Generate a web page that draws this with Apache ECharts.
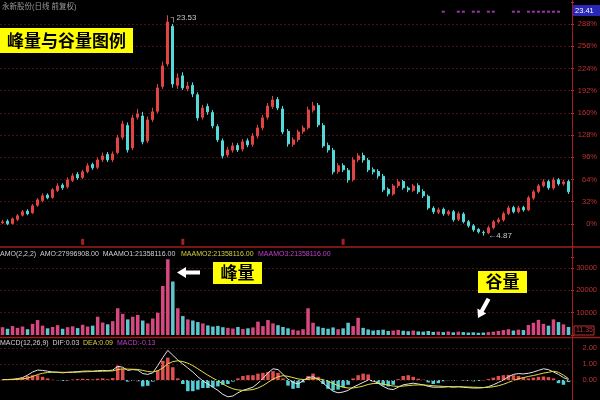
<!DOCTYPE html>
<html><head><meta charset="utf-8">
<script src="https://cdn.jsdelivr.net/npm/echarts/dist/echarts.min.js"></script>
<style>html,body{margin:0;padding:0;background:#000;}#c{width:600px;height:400px;}</style>
</head><body><div id="c"></div>
<script>
// ---- data ----
const basePrice = 5.87; // price at 0% on the right axis
const opens = [5.95,6.10,5.90,6.25,6.60,6.95,6.80,7.45,7.85,8.30,
 8.10,8.70,9.15,9.00,9.55,10.05,9.80,10.30,10.90,10.65,
 11.30,11.75,11.30,11.90,13.20,14.20,12.30,14.90,15.00,12.90,
 14.70,15.40,17.50,19.40,22.60,17.60,18.40,17.30,17.60,16.80,
 14.90,15.80,15.30,14.10,12.90,11.70,12.10,12.50,12.20,12.90,
 12.60,13.30,14.00,14.90,15.80,16.40,15.60,13.70,12.60,13.00,
 13.70,14.00,15.50,15.90,14.20,12.50,12.10,10.30,10.80,10.40,
 9.60,11.30,11.65,11.25,10.45,10.30,9.90,8.80,8.40,9.10,
 9.45,8.90,8.70,9.10,8.60,8.20,7.20,6.85,7.10,6.70,
 6.90,6.25,6.70,6.05,5.70,5.40,5.15,5.10,5.55,6.05,
 6.20,6.75,7.25,6.90,7.25,7.05,8.05,8.60,9.10,9.45,
 8.90,9.60,9.25,9.45];
const closes = [6.04,5.87,6.29,6.55,6.89,6.72,7.39,7.90,8.24,8.07,
 8.75,9.08,8.92,9.59,9.93,9.76,10.27,10.78,10.61,11.28,
 11.62,11.28,11.79,13.15,14.33,12.13,14.84,15.18,12.81,14.67,
 15.35,17.38,19.24,22.96,17.71,18.22,17.38,17.54,16.87,14.84,
 15.68,15.35,14.16,12.98,11.62,12.13,12.47,12.13,12.81,12.55,
 13.31,13.99,14.84,15.85,16.36,15.68,13.65,12.64,12.98,13.65,
 13.99,15.51,15.85,14.25,12.47,12.13,10.27,10.78,10.44,9.59,
 11.28,11.62,11.28,10.44,10.27,9.93,8.75,8.41,9.08,9.42,
 8.92,8.75,9.08,8.58,8.24,7.22,6.89,7.05,6.72,6.89,
 6.21,6.72,6.04,5.70,5.36,5.19,5.11,5.53,6.04,6.21,
 6.72,7.22,6.89,7.22,7.05,8.07,8.58,9.08,9.42,8.92,
 9.59,9.25,9.42,8.58];
const highs = [6.20,6.25,6.40,6.70,7.05,7.10,7.55,8.05,8.45,8.45,
 8.90,9.30,9.30,9.80,10.15,10.25,10.45,11.00,11.05,11.50,
 11.90,11.95,12.00,13.40,14.60,14.45,15.10,15.60,15.35,14.95,
 15.70,17.70,19.60,23.53,22.80,18.60,18.70,17.90,17.85,17.00,
 15.95,16.05,15.50,14.30,13.10,12.40,12.75,12.70,13.05,13.10,
 13.55,14.25,15.10,16.10,16.70,16.60,15.85,13.90,13.20,13.85,
 14.20,15.80,16.20,16.10,14.40,12.75,12.30,11.00,11.00,10.60,
 11.50,11.85,11.90,11.45,10.65,10.50,10.10,8.95,9.25,9.65,
 9.60,9.05,9.25,9.30,8.80,8.35,7.35,7.25,7.25,7.05,
 7.05,6.90,6.85,6.20,5.85,5.50,5.30,5.70,6.20,6.40,
 6.90,7.40,7.40,7.40,7.40,8.25,8.75,9.25,9.65,9.60,
 9.80,9.75,9.60,9.60];
const lows = [5.85,5.75,5.80,6.10,6.50,6.60,6.70,7.30,7.70,7.95,
 8.00,8.55,8.75,8.85,9.40,9.60,9.65,10.15,10.45,10.50,
 11.10,11.10,11.10,11.75,13.00,11.90,12.10,14.70,12.60,12.70,
 14.50,15.20,17.30,19.20,17.40,17.30,17.20,17.10,16.60,14.60,
 14.70,15.10,13.95,12.80,11.40,11.50,11.90,11.95,12.00,12.35,
 12.40,13.10,13.80,14.70,15.60,15.50,13.45,12.40,12.40,12.80,
 13.50,13.85,15.30,14.05,12.30,11.90,10.05,10.10,10.25,9.35,
 9.45,11.10,11.05,10.25,10.05,9.70,8.55,8.20,8.25,8.90,
 8.75,8.55,8.55,8.40,8.05,7.05,6.70,6.70,6.55,6.55,
 6.05,6.10,5.90,5.55,5.20,5.05,4.87,5.00,5.40,5.90,
 6.05,6.60,6.75,6.75,6.90,6.95,7.90,8.45,8.95,8.75,
 8.75,9.10,9.10,8.40];
const volumes = [3500,2800,4000,3200,3800,2600,5000,6700,4200,3000,
 3600,4400,2800,3500,3900,3100,4600,3800,4200,8200,
 5600,4800,6200,12000,9500,7000,8200,9000,6500,5200,
 7400,10000,22000,34000,24000,12000,8500,7000,6500,5800,
 5200,4300,3800,4100,3500,3200,2900,3600,2700,3000,
 3400,6000,4000,6700,5200,4400,3600,3000,2400,2000,
 2600,12000,5500,3800,3200,2800,3400,2600,3000,5500,
 4000,7700,3200,2500,2000,2200,2400,1800,2000,2300,
 1900,1700,2000,1600,1500,1800,1400,1500,1300,1600,
 1200,1500,1300,1100,1200,1000,1100,1300,1500,1800,
 2200,2600,2000,2400,2200,4500,5500,6800,5000,4200,
 7000,5800,4800,3600];
const dif = [0.02,0.03,0.05,0.08,0.15,0.30,0.50,0.62,0.60,0.55,
 0.50,0.48,0.45,0.48,0.50,0.52,0.55,0.56,0.55,0.58,
 0.60,0.58,0.62,0.85,0.80,0.60,0.65,0.62,0.40,0.35,
 0.45,0.90,1.40,1.85,1.55,1.25,1.00,0.75,0.50,0.20,
 -0.05,-0.25,-0.45,-0.65,-0.90,-1.05,-1.00,-0.80,-0.65,-0.55,
 -0.45,-0.20,0.10,0.45,0.70,0.65,0.35,0.05,-0.15,-0.25,
 -0.05,0.15,0.20,0.05,-0.20,-0.45,-0.70,-0.80,-0.75,-0.65,
 -0.45,-0.30,-0.15,0.00,-0.05,-0.20,-0.40,-0.55,-0.60,-0.45,
 -0.30,-0.25,-0.20,-0.25,-0.30,-0.40,-0.45,-0.45,-0.45,-0.42,
 -0.45,-0.42,-0.45,-0.48,-0.50,-0.50,-0.48,-0.42,-0.30,-0.15,
 0.00,0.20,0.35,0.40,0.38,0.42,0.50,0.60,0.70,0.65,
 0.50,0.35,0.15,0.03];
const dea = [0.01,0.02,0.03,0.04,0.07,0.12,0.22,0.34,0.42,0.47,
 0.49,0.49,0.48,0.48,0.48,0.49,0.51,0.52,0.53,0.54,
 0.55,0.56,0.57,0.65,0.70,0.68,0.67,0.66,0.60,0.53,
 0.50,0.58,0.75,1.00,1.15,1.20,1.15,1.05,0.90,0.70,
 0.50,0.30,0.12,-0.05,-0.25,-0.42,-0.55,-0.62,-0.65,-0.63,
 -0.60,-0.50,-0.35,-0.15,0.05,0.20,0.27,0.23,0.15,0.07,
 0.03,0.05,0.08,0.08,0.02,-0.08,-0.22,-0.35,-0.45,-0.50,
 -0.50,-0.45,-0.38,-0.28,-0.22,-0.21,-0.25,-0.32,-0.38,-0.40,
 -0.38,-0.35,-0.32,-0.31,-0.31,-0.33,-0.36,-0.38,-0.40,-0.41,
 -0.42,-0.42,-0.43,-0.44,-0.45,-0.46,-0.47,-0.46,-0.42,-0.36,
 -0.27,-0.15,-0.03,0.08,0.15,0.22,0.28,0.35,0.43,0.48,
 0.55,0.48,0.30,0.09];
const macdHist = [0.02,0.03,0.05,0.10,0.16,0.25,0.30,0.30,0.20,0.10,
 0.02,-0.02,-0.06,-0.04,0.03,0.06,0.08,0.06,0.04,0.08,
 0.10,0.05,0.12,0.90,0.70,-0.10,-0.05,-0.08,-0.40,-0.36,
 -0.10,0.60,1.20,1.40,0.80,0.10,-0.25,-0.70,-0.70,-0.60,
 -0.50,-0.50,-0.45,-0.40,-0.30,-0.25,-0.10,0.10,0.25,0.30,
 0.30,0.40,0.45,0.50,0.55,0.45,0.10,-0.35,-0.55,-0.50,
 -0.15,0.25,0.40,0.20,-0.25,-0.55,-0.65,-0.60,-0.45,-0.30,
 0.10,0.30,0.40,0.35,-0.10,-0.25,-0.35,-0.40,-0.30,0.05,
 0.25,0.30,0.20,0.08,0.02,-0.15,-0.25,-0.20,-0.08,-0.02,
 -0.05,0.00,-0.04,-0.06,-0.08,-0.06,-0.02,0.06,0.15,0.25,
 0.30,0.32,0.30,0.25,0.15,0.10,0.15,0.20,0.22,0.18,
 0.10,-0.20,-0.30,-0.13];
const eventIdx = [88,91,92,94,95,97,98,102,103,105,106,107,108,109,110,111];
const eventLevel = 306;      // percent level of the event dots row
const noteIdx = [16,36,68];
const noteLevel = -26;
const peakIdx = 33, lowIdx = 96;
const priceTicks = [0,32,64,96,128,160,192,224,256,288];
const volTicks = [10000,20000,30000];
const macdTicks = [0,1,2];
const categories = closes.map((_, i) => 'D' + (i + 1));

// ---- build ----
const pct = v => (v / basePrice - 1) * 100;
const UP = '#e04444', DOWN = '#54d8d8';
const AXC = '#c03232', GRIDC = '#4a1212';
const chart = echarts.init(document.getElementById('c'), null, {renderer: 'canvas'});

const candleData = opens.map((o, i) => [pct(o), pct(closes[i]), pct(lows[i]), pct(highs[i])]);
const volData = volumes.map((v, i) => ({value: v, itemStyle: {color: closes[i] >= opens[i] ? '#d84880' : '#5cc6ce'}}));
const histData = macdHist.map(v => ({value: v, itemStyle: {color: v >= 0 ? '#e05050' : '#50d0d8'}}));

const axisLabelBase = {color: AXC, fontSize: 7.5, fontFamily: 'Liberation Sans, Arial', align: 'right', margin: 26};
const xBase = {type: 'category', data: categories, boundaryGap: true, show: false};

const Z = 100;
const txt = (x, y, s, color, size) => ({type: 'text', x: x, y: y, silent: true, z: Z,
  style: {text: s, fill: color, font: (size || 7.5) + 'px "Liberation Sans", "Noto Sans CJK SC", sans-serif', textVerticalAlign: 'middle'}});
const box = (x, y, w, h, fill) => ({type: 'rect', silent: true, z: Z, shape: {x: x, y: y, width: w, height: h}, style: {fill: fill}});
const bigTxt = (x, y, s) => ({type: 'text', silent: true, z: Z + 1, x: x, y: y,
  style: {text: s, fill: '#000', font: 'bold 17px "Noto Sans CJK SC", sans-serif', textAlign: 'center', textVerticalAlign: 'middle'}});

chart.setOption({
  animation: false,
  backgroundColor: '#000',
  grid: [
    {left: 0, right: 28, top: 2, height: 244},
    {left: 0, right: 28, top: 257, height: 78},
    {left: 0, right: 28, top: 340, height: 56}
  ],
  xAxis: [Object.assign({gridIndex: 0}, xBase), Object.assign({gridIndex: 1}, xBase), Object.assign({gridIndex: 2}, xBase)],
  yAxis: [
    {gridIndex: 0, type: 'value', position: 'right', min: -32, max: 320, interval: 32,
     axisLine: {show: false}, axisTick: {show: true, length: 3, lineStyle: {color: AXC}},
     axisLabel: Object.assign({}, axisLabelBase, {formatter: v => priceTicks.indexOf(v) >= 0 ? v + '%' : ''}),
     splitLine: {show: true, showMinLine: false, showMaxLine: false, lineStyle: {color: GRIDC, type: [2, 2], width: 1}}},
    {gridIndex: 1, type: 'value', position: 'right', min: 0, max: 35000, interval: 10000,
     axisLine: {show: false}, axisTick: {show: true, length: 3, lineStyle: {color: AXC}},
     axisLabel: Object.assign({}, axisLabelBase, {formatter: v => volTicks.indexOf(v) >= 0 ? String(v) : ''}),
     splitLine: {show: true, showMinLine: false, showMaxLine: false, lineStyle: {color: GRIDC, type: [2, 2], width: 1}}},
    {gridIndex: 2, type: 'value', position: 'right', min: -1, max: 2.5, interval: 1,
     axisLine: {show: false}, axisTick: {show: false},
     axisLabel: Object.assign({}, axisLabelBase, {formatter: v => macdTicks.indexOf(v) >= 0 ? v.toFixed(2) : ''}),
     splitLine: {show: false}}
  ],
  series: [
    {type: 'candlestick', xAxisIndex: 0, yAxisIndex: 0, data: candleData, barWidth: 2.5,
     itemStyle: {color: UP, color0: DOWN, borderColor: UP, borderColor0: DOWN, borderWidth: 1},
     markPoint: {symbol: 'circle', symbolSize: 0, silent: true,
       label: {show: true, position: 'right', color: '#c8c8c8', fontSize: 8, fontFamily: 'Liberation Sans, Arial'},
       data: [
         {coord: [categories[peakIdx], pct(highs[peakIdx])], label: {formatter: '┐' + highs[peakIdx].toFixed(2), offset: [-2, 3]}},
         {coord: [categories[lowIdx], pct(lows[lowIdx])], label: {formatter: '←' + lows[lowIdx].toFixed(2), offset: [0, 0]}}
       ]}},
    {type: 'scatter', xAxisIndex: 0, yAxisIndex: 0, symbol: 'rect', symbolSize: [3, 2], silent: true,
     itemStyle: {color: '#c040d8'}, data: eventIdx.map(i => [categories[i], eventLevel])},
    {type: 'scatter', xAxisIndex: 0, yAxisIndex: 0, symbol: 'rect', symbolSize: [3, 6], silent: true,
     itemStyle: {color: '#d02828'}, data: noteIdx.map(i => [categories[i], noteLevel])},
    {type: 'bar', xAxisIndex: 1, yAxisIndex: 1, data: volData, barWidth: 3.5, silent: true},
    {type: 'bar', xAxisIndex: 2, yAxisIndex: 2, data: histData, barWidth: 3.5, silent: true,
     markLine: {symbol: 'none', silent: true, label: {show: false},
       lineStyle: {color: GRIDC, type: [2, 2], width: 1},
       data: macdTicks.map(t => ({yAxis: t}))}},
    {type: 'line', xAxisIndex: 2, yAxisIndex: 2, data: dif, symbol: 'none', silent: true, clip: false,
     lineStyle: {color: '#e6e6e6', width: 1}},
    {type: 'line', xAxisIndex: 2, yAxisIndex: 2, data: dea, symbol: 'none', silent: true, clip: false,
     lineStyle: {color: '#e6e040', width: 1}}
  ],
  graphic: [
    {type: 'line', silent: true, z: Z, shape: {x1: 572.5, y1: 0, x2: 572.5, y2: 400}, style: {stroke: '#a01c1c', lineWidth: 1}},
    {type: 'line', silent: true, z: Z, shape: {x1: 0, y1: 247, x2: 600, y2: 247}, style: {stroke: '#a01c1c', lineWidth: 1.5}},
    {type: 'line', silent: true, z: Z, shape: {x1: 0, y1: 337.5, x2: 600, y2: 337.5}, style: {stroke: '#a01c1c', lineWidth: 1.5}},
    txt(2, 7, '永新股份(日线 前复权)', '#9a9a9a', 7.5),
    box(0, 28, 133, 25, '#ffff00'),
    bigTxt(66.5, 41, '峰量与谷量图例'),
    box(573, 5, 27, 11, '#2828b4'),
    txt(575, 10.5, '23.41', '#ffffff', 7.5),
    txt(0, 254, 'AMO(2,2,2)  AMO:27996908.00  MAAMO1:21358116.00', '#d0d0d0', 7),
    txt(181, 254, 'MAAMO2:21358116.00', '#d6d040', 7),
    txt(258, 254, 'MAAMO3:21358116.00', '#c040c8', 7),
    {type: 'rect', silent: true, z: Z, shape: {x: 574, y: 326, width: 20, height: 9}, style: {fill: '#000', stroke: '#c03232', lineWidth: 1}},
    txt(576, 330.5, '11.35', '#c03232', 7),
    txt(0, 343.5, 'MACD(12,26,9)  DIF:0.03', '#d0d0d0', 7),
    txt(83, 343.5, 'DEA:0.09', '#d6d040', 7),
    txt(117, 343.5, 'MACD:-0.13', '#c040c8', 7),
    {type: 'polygon', silent: true, z: Z, shape: {points: [[177,272.5],[186,267],[186,270.5],[200,270.5],[200,274.5],[186,274.5],[186,278]]}, style: {fill: '#ffffff'}},
    box(213, 262, 49, 22, '#ffff00'),
    bigTxt(237.5, 273, '峰量'),
    box(478, 271, 49, 22, '#ffff00'),
    bigTxt(502.5, 282, '谷量'),
    {type: 'polygon', silent: true, z: Z, shape: {points: [[478,318],[486.2,313.4],[483.6,312],[490.4,299.7],[486.8,297.7],[480,310],[477.4,308.6]]}, style: {fill: '#ffffff'}}
  ]
});
</script>
</body></html>
